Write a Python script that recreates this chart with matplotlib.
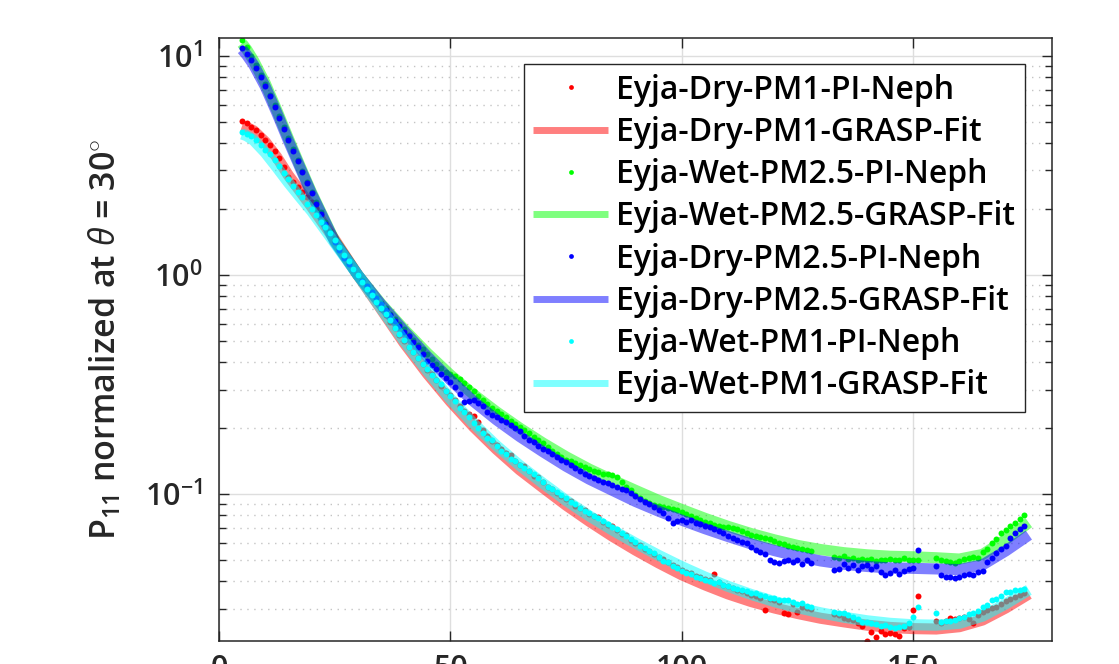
import numpy as np
import matplotlib
matplotlib.use('Agg')
import matplotlib.pyplot as plt
from matplotlib.ticker import LogLocator, NullFormatter

plt.rcParams['font.family'] = ['Open Sans', 'DejaVu Sans']
plt.rcParams['font.weight'] = 'semibold'
plt.rcParams['mathtext.fontset'] = 'custom'
plt.rcParams['mathtext.rm'] = 'Open Sans:semibold'
plt.rcParams['mathtext.it'] = 'Open Sans:italic:regular'
plt.rcParams['mathtext.bf'] = 'Open Sans:bold'

# scattering angles of the polar nephelometer (deg), gaps where no data
angle = np.r_[5:129, 133:152, 155:175]

# measured phase function P11, normalized at 30 deg
dry_pm1 = [
    5.07, 4.92, 4.75, 4.57, 4.34, 4.14, 3.93, 3.67, 3.41, 3.10,
    2.81, 2.66, 2.52, 2.40, 2.28, 2.16, 2.02, 1.87, 1.73, 1.59,
    1.47, 1.35, 1.24, 1.15, 1.07, 1.00, 0.935, 0.872, 0.810, 0.752,
    0.700, 0.655, 0.612, 0.571, 0.535, 0.500, 0.470, 0.444, 0.420, 0.392,
    0.368, 0.352, 0.333, 0.310, 0.296, 0.282, 0.268, 0.252, 0.240, 0.233,
    0.226, 0.214, 0.196, 0.184, 0.174, 0.167, 0.160, 0.154, 0.150, 0.142,
    0.136, 0.134, 0.127, 0.121, 0.119, 0.113, 0.108, 0.106, 0.101, 0.0975,
    0.0948, 0.0930, 0.0885, 0.0860, 0.0845, 0.0812, 0.0790, 0.0785, 0.0745, 0.0720,
    0.0712, 0.0682, 0.0660, 0.0650, 0.0618, 0.0600, 0.0584, 0.0560, 0.0549, 0.0530,
    0.0515, 0.0505, 0.0488, 0.0476, 0.0465, 0.0452, 0.0441, 0.0436, 0.0424, 0.0418,
    0.0410, 0.0404, 0.0432, 0.0398, 0.0386, 0.0380, 0.0371, 0.0366, 0.0360, 0.0352,
    0.0346, 0.0344, 0.0336, 0.0296, 0.0332, 0.0328, 0.0322, 0.0287, 0.0284, 0.0314,
    0.0290, 0.0305, 0.0301, 0.0298,
    0.0282, 0.0280, 0.0273, 0.0270, 0.0265, 0.0258, 0.0250, 0.0214, 0.0235, 0.0223,
    0.0238, 0.0229, 0.0231, 0.0229, 0.0226, 0.0244, 0.0247, 0.0297, 0.0341,
    0.0262, 0.0258, 0.0262, 0.0271, 0.0268, 0.0272, 0.0276, 0.0270, 0.0258, 0.0280,
    0.0290, 0.0296, 0.0302, 0.0306, 0.0316, 0.0325, 0.0333, 0.0340, 0.0346, 0.0354,
]
wet_pm25 = [
    11.8, 11.0, 10.0, 9.08, 8.22, 7.41, 6.65, 5.96, 5.31, 4.73,
    4.22, 3.76, 3.35, 2.99, 2.67, 2.40, 2.15, 1.93, 1.74, 1.57,
    1.43, 1.31, 1.21, 1.13, 1.06, 1.00, 0.944, 0.891, 0.839, 0.791,
    0.746, 0.705, 0.665, 0.630, 0.596, 0.565, 0.535, 0.506, 0.481, 0.457,
    0.435, 0.412, 0.394, 0.376, 0.359, 0.353, 0.345, 0.334, 0.322, 0.308,
    0.294, 0.279, 0.268, 0.257, 0.248, 0.240, 0.231, 0.224, 0.216, 0.209,
    0.203, 0.196, 0.189, 0.183, 0.177, 0.171, 0.164, 0.158, 0.152, 0.147,
    0.143, 0.141, 0.139, 0.136, 0.133, 0.130, 0.128, 0.126, 0.124, 0.123,
    0.122, 0.119, 0.114, 0.108, 0.104, 0.0989, 0.0955, 0.0933, 0.0912, 0.0895,
    0.0881, 0.0871, 0.0861, 0.0851, 0.0845, 0.0828, 0.0813, 0.0798, 0.0780, 0.0762,
    0.0745, 0.0735, 0.0724, 0.0716, 0.0708, 0.0705, 0.0697, 0.0689, 0.0676, 0.0664,
    0.0653, 0.0646, 0.0638, 0.0631, 0.0624, 0.0610, 0.0600, 0.0589, 0.0582, 0.0575,
    0.0569, 0.0562, 0.0556, 0.0547,
    0.0518, 0.0513, 0.0519, 0.0507, 0.0513, 0.0501, 0.0506, 0.0500, 0.0504, 0.0495,
    0.0501, 0.0499, 0.0506, 0.0498, 0.0501, 0.0513, 0.0501, 0.0501, 0.0499,
    0.0513, 0.0501, 0.0495, 0.0490, 0.0486, 0.0495, 0.0506, 0.0510, 0.0518, 0.0513,
    0.0543, 0.0562, 0.0596, 0.0624, 0.0661, 0.0684, 0.0716, 0.0741, 0.0773, 0.0802,
]
dry_pm25 = [
    10.9, 10.2, 9.55, 8.81, 8.04, 7.28, 6.53, 5.83, 5.20, 4.62,
    4.12, 3.70, 3.31, 2.95, 2.63, 2.36, 2.11, 1.89, 1.71, 1.55,
    1.42, 1.30, 1.20, 1.12, 1.06, 1.00, 0.942, 0.887, 0.834, 0.783,
    0.738, 0.695, 0.655, 0.618, 0.583, 0.552, 0.524, 0.495, 0.468, 0.437,
    0.407, 0.389, 0.372, 0.355, 0.340, 0.324, 0.309, 0.285, 0.263, 0.266,
    0.269, 0.260, 0.251, 0.237, 0.229, 0.224, 0.218, 0.214, 0.207, 0.200,
    0.193, 0.184, 0.177, 0.172, 0.166, 0.161, 0.157, 0.152, 0.147, 0.143,
    0.140, 0.136, 0.132, 0.128, 0.124, 0.121, 0.118, 0.116, 0.114, 0.112,
    0.110, 0.108, 0.106, 0.104, 0.101, 0.0977, 0.0951, 0.0923, 0.0897, 0.0871,
    0.0845, 0.0822, 0.0776, 0.0735, 0.0750, 0.0759, 0.0745, 0.0762, 0.0741, 0.0728,
    0.0716, 0.0710, 0.0695, 0.0676, 0.0661, 0.0646, 0.0631, 0.0619, 0.0605, 0.0596,
    0.0575, 0.0556, 0.0546, 0.0535, 0.0501, 0.0490, 0.0482, 0.0495, 0.0501, 0.0488,
    0.0500, 0.0481, 0.0501, 0.0484,
    0.0450, 0.0457, 0.0479, 0.0462, 0.0476, 0.0452, 0.0468, 0.0474, 0.0457, 0.0468,
    0.0442, 0.0427, 0.0435, 0.0452, 0.0432, 0.0445, 0.0457, 0.0462, 0.0555,
    0.0469, 0.0427, 0.0419, 0.0417, 0.0415, 0.0419, 0.0429, 0.0432, 0.0429, 0.0442,
    0.0447, 0.0490, 0.0513, 0.0537, 0.0562, 0.0582, 0.0631, 0.0661, 0.0692, 0.0714,
]
wet_pm1 = [
    4.51, 4.42, 4.29, 4.12, 3.94, 3.74, 3.55, 3.34, 3.14, 2.93,
    2.73, 2.56, 2.40, 2.26, 2.12, 2.00, 1.87, 1.75, 1.65, 1.55,
    1.45, 1.34, 1.24, 1.16, 1.07, 1.00, 0.929, 0.865, 0.807, 0.755,
    0.706, 0.661, 0.622, 0.575, 0.537, 0.504, 0.468, 0.445, 0.419, 0.394,
    0.372, 0.351, 0.331, 0.318, 0.295, 0.280, 0.265, 0.248, 0.237, 0.224,
    0.211, 0.200, 0.190, 0.181, 0.176, 0.165, 0.158, 0.152, 0.144, 0.141,
    0.136, 0.132, 0.127, 0.124, 0.118, 0.114, 0.108, 0.106, 0.102, 0.0989,
    0.0955, 0.0923, 0.0905, 0.0867, 0.0841, 0.0817, 0.0794, 0.0780, 0.0750, 0.0728,
    0.0708, 0.0695, 0.0667, 0.0646, 0.0625, 0.0605, 0.0580, 0.0569, 0.0552, 0.0537,
    0.0515, 0.0496, 0.0490, 0.0470, 0.0458, 0.0446, 0.0436, 0.0432, 0.0420, 0.0413,
    0.0406, 0.0400, 0.0394, 0.0398, 0.0384, 0.0379, 0.0372, 0.0369, 0.0364, 0.0359,
    0.0355, 0.0355, 0.0346, 0.0342, 0.0335, 0.0334, 0.0330, 0.0327, 0.0328, 0.0320,
    0.0316, 0.0318, 0.0309, 0.0305,
    0.0290, 0.0287, 0.0286, 0.0279, 0.0274, 0.0269, 0.0260, 0.0260, 0.0257, 0.0254,
    0.0251, 0.0252, 0.0248, 0.0245, 0.0248, 0.0251, 0.0257, 0.0275, 0.0305,
    0.0285, 0.0260, 0.0264, 0.0263, 0.0266, 0.0272, 0.0275, 0.0283, 0.0285, 0.0292,
    0.0305, 0.0313, 0.0329, 0.0333, 0.0343, 0.0356, 0.0357, 0.0363, 0.0366, 0.0367,
]

# GRASP retrieval fits
fit_angle = [5, 6, 7.5, 10, 12.5, 15, 17.5, 20] + list(range(25, 176, 5))
dry_pm1_fit = [
    4.80, 4.72, 4.55, 4.05, 3.45, 2.85, 2.42, 2.05,
    1.45, 1.0, 0.700, 0.490, 0.355, 0.265, 0.203, 0.160, 0.129, 0.107,
    0.0890, 0.0752, 0.0642, 0.0555, 0.0485, 0.0428, 0.0385, 0.0350, 0.0323, 0.0302,
    0.0285, 0.0271, 0.0261, 0.0252, 0.0246, 0.0243, 0.0242, 0.0248, 0.0266, 0.0302, 0.0350,
]
wet_pm25_fit = [
    11.4, 10.7, 9.5, 7.5, 5.65, 4.2, 3.15, 2.38,
    1.43, 1.0, 0.740, 0.565, 0.440, 0.350, 0.285, 0.237, 0.200, 0.171,
    0.148, 0.130, 0.116, 0.104, 0.0935, 0.0850, 0.0775, 0.0712, 0.0660, 0.0618,
    0.0583, 0.0558, 0.0540, 0.0528, 0.0520, 0.0517, 0.0512, 0.0505, 0.0530, 0.0620, 0.0740,
]
dry_pm25_fit = [
    10.7, 10.1, 9.1, 7.25, 5.5, 4.1, 3.1, 2.35,
    1.42, 1.0, 0.735, 0.555, 0.425, 0.332, 0.265, 0.218, 0.183, 0.156,
    0.134, 0.117, 0.104, 0.0925, 0.0835, 0.0760, 0.0695, 0.0640, 0.0592, 0.0552,
    0.0520, 0.0495, 0.0478, 0.0467, 0.0460, 0.0458, 0.0455, 0.0452, 0.0475, 0.0550, 0.0650,
]
wet_pm1_fit = [
    4.40, 4.32, 4.12, 3.62, 3.10, 2.64, 2.27, 1.96,
    1.40, 1.0, 0.705, 0.500, 0.365, 0.272, 0.210, 0.166, 0.135, 0.112,
    0.0935, 0.0795, 0.0685, 0.0597, 0.0525, 0.0466, 0.0418, 0.0379, 0.0348, 0.0323,
    0.0303, 0.0287, 0.0274, 0.0264, 0.0257, 0.0253, 0.0252, 0.0257, 0.0277, 0.0315, 0.0365,
]

series = [
    ('Eyja-Dry-PM1', dry_pm1, dry_pm1_fit, (1, 0, 0)),
    ('Eyja-Wet-PM2.5', wet_pm25, wet_pm25_fit, (0, 1, 0)),
    ('Eyja-Dry-PM2.5', dry_pm25, dry_pm25_fit, (0, 0, 1)),
    ('Eyja-Wet-PM1', wet_pm1, wet_pm1_fit, (0, 1, 1)),
]

ink = '#262626'
fig = plt.figure(figsize=(11.19, 6.64), dpi=100)
ax = fig.add_axes([0.1957, 0.0346, 0.7444, 0.9082])

for name, meas, fit, col in series:
    ax.plot(angle, meas, 'o', color=col, ms=4.3, mew=0, label=name + '-PI-Neph')
    ax.plot(fit_angle, fit, '-', color=col, alpha=0.5, lw=8,
            solid_capstyle='butt', label=name + '-GRASP-Fit')

ax.set_yscale('log')
ax.set_xlim(0, 180)
ax.set_ylim(0.02133, 12.08)
ax.set_xticks([0, 50, 100, 150])
ax.yaxis.set_minor_locator(LogLocator(base=10, subs=np.arange(2, 10), numticks=20))
ax.yaxis.set_minor_formatter(NullFormatter())

ax.set_axisbelow(True)
ax.grid(True, which='major', color='#dedede', lw=1, ls='-')
ax.grid(True, which='minor', axis='y', color='#c4c4c4', lw=1, ls=(0, (1, 4)))

ax.tick_params(which='both', direction='in', top=True, right=True,
               colors=ink, width=1, labelsize=22)
ax.tick_params(which='major', length=7)
ax.tick_params(which='minor', length=5)
ax.tick_params(axis='x', pad=9)
ax.tick_params(axis='y', pad=12)
for s in ax.spines.values():
    s.set_color(ink)
    s.set_linewidth(1.1)

ax.set_ylabel(r'P$_{11}$ normalized at $\theta$ = 30$^{\circ}$', fontsize=24.5,
              fontweight='semibold', color=ink)
ax.yaxis.set_label_coords(-0.115, 0.5)

leg = ax.legend(loc='upper right', bbox_to_anchor=(0.9676, 0.9569), borderaxespad=0,
                fontsize=23, frameon=True, fancybox=False, edgecolor=ink, framealpha=1,
                handlelength=2.35, handletextpad=0.25, labelspacing=0.29,
                borderpad=0.3, markerscale=0.8)
leg.get_frame().set_linewidth(1.0)
for h in leg.legend_handles:
    if h.get_linestyle() == '-':
        h.set_linewidth(5)

fig.savefig('out.png', dpi=100)
